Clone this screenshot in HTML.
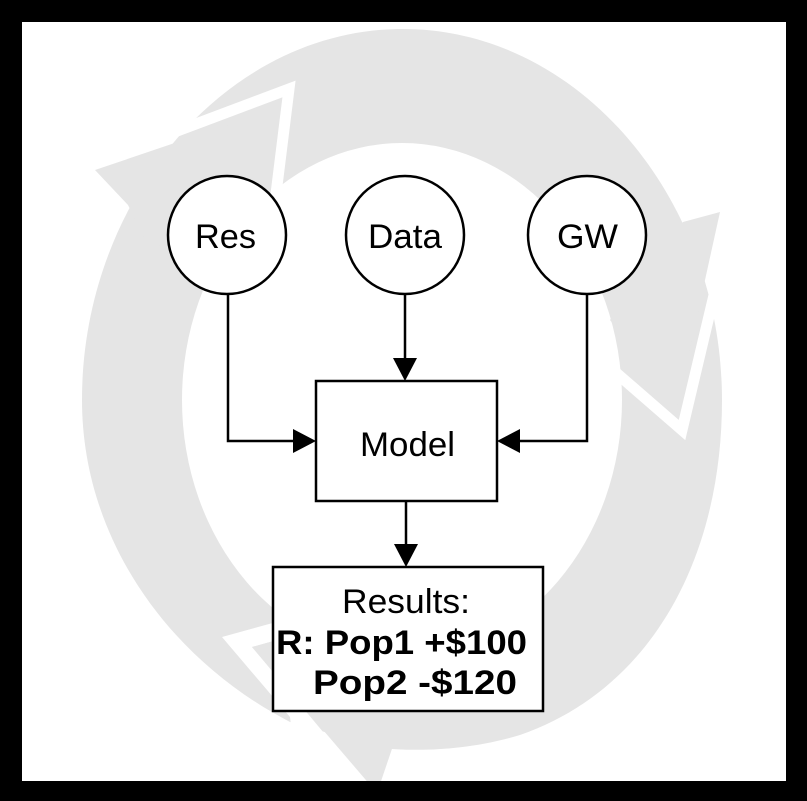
<!DOCTYPE html>
<html><head><meta charset="utf-8"><style>
html,body{margin:0;padding:0;background:#000;}
svg{display:block;}
text{font-family:"Liberation Sans",Arial,sans-serif;fill:#000;}
</style></head><body>
<svg width="807" height="801" viewBox="0 0 807 801" xmlns="http://www.w3.org/2000/svg">
<rect x="0" y="0" width="807" height="801" fill="#000"/>
<rect x="22" y="22" width="764" height="759" fill="#fff"/>
<clipPath id="c"><rect x="22" y="22" width="764" height="759"/></clipPath>
<g clip-path="url(#c)">
  <path fill="#e5e5e5" fill-rule="evenodd" d="M403,29 C580,29 722,200 722,400 C722,560 650,690 520,735 C470,750 420,752 380,748 L290,722 C170,660 82,540 82,400 C82,200 226,29 403,29 Z M182,400 A220,257 0 1,0 622,400 A220,257 0 1,0 182,400 Z"/>
  <polygon fill="#e5e5e5" points="95,170 272,110 262,200 150,250 128,205"/>
  <polygon fill="#e5e5e5" points="720,212 677,407 610,320 683,222"/>
  <polyline fill="none" stroke="#fff" stroke-width="11" stroke-linejoin="miter" stroke-miterlimit="10" points="140,145 289,89 274,210"/>
  <polyline fill="none" stroke="#fff" stroke-width="11" stroke-linejoin="miter" stroke-miterlimit="10" points="729,232 682,430 606,364"/>
  <polygon fill="#fff" points="222,637 320,610 320,628 252,647 380,800 300,800 290,717"/>
  <polygon fill="#e5e5e5" points="252,647 377,793 395,740 340,640 320,628"/>
</g>
<g stroke="#000" stroke-width="2.5" fill="none">
  <polyline points="228,294 228,441 296,441"/>
  <line x1="405" y1="294" x2="405" y2="360"/>
  <polyline points="587,294 587,441 518,441"/>
  <line x1="406" y1="501" x2="406" y2="545"/>
</g>
<g fill="#000">
  <polygon points="316,441 293,429 293,453"/>
  <polygon points="405,381 393,358 417,358"/>
  <polygon points="497,441 520,429 520,453"/>
  <polygon points="406,567 394,544 418,544"/>
</g>
<g stroke="#000" stroke-width="2.5" fill="#fff">
  <circle cx="227" cy="235" r="59"/>
  <circle cx="405" cy="235" r="59"/>
  <circle cx="587" cy="235" r="59"/>
  <rect x="316" y="381" width="181" height="120"/>
  <rect x="273" y="567" width="270" height="144"/>
</g>
<g font-size="34">
  <text x="195" y="248" textLength="61" lengthAdjust="spacingAndGlyphs">Res</text>
  <text x="368" y="248" textLength="74" lengthAdjust="spacingAndGlyphs">Data</text>
  <text x="557" y="248" textLength="61" lengthAdjust="spacingAndGlyphs">GW</text>
  <text x="360" y="456" textLength="95" lengthAdjust="spacingAndGlyphs">Model</text>
  <text x="342" y="613" textLength="128" lengthAdjust="spacingAndGlyphs">Results:</text>
  <text x="276" y="654" font-weight="bold" textLength="251" lengthAdjust="spacingAndGlyphs">R: Pop1 +$100</text>
  <text x="313" y="694" font-weight="bold" textLength="204" lengthAdjust="spacingAndGlyphs">Pop2 -$120</text>
</g>
</svg>
</body></html>
